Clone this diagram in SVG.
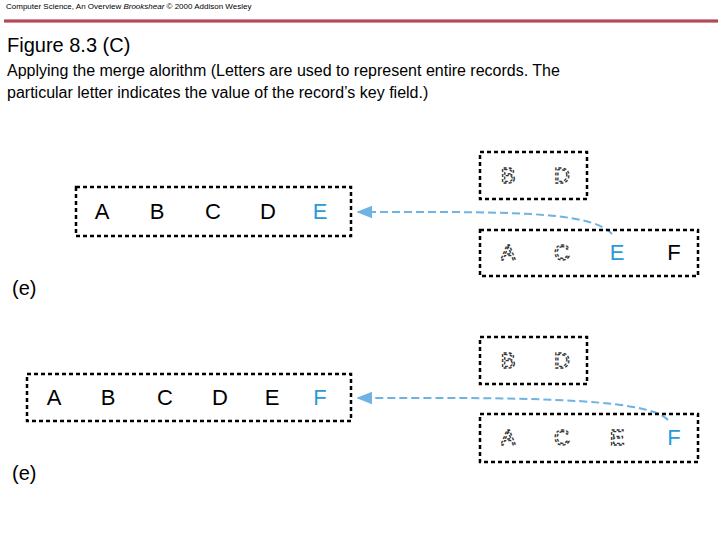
<svg xmlns="http://www.w3.org/2000/svg" width="720" height="540" viewBox="0 0 720 540">
<defs>
<linearGradient id="rule" x1="0" y1="0" x2="0" y2="1"><stop offset="0" stop-color="#e8b0b8"/><stop offset="0.5" stop-color="#a0283c"/><stop offset="1" stop-color="#e8b0b8"/></linearGradient>
<marker id="ah" viewBox="0 0 10 10" refX="9" refY="5" markerWidth="8" markerHeight="8" orient="auto"><path d="M0,1 L10,5 L0,9 z" fill="#6fb2e4"/></marker>
</defs>
<style>
text{font-family:"Liberation Sans",Arial,sans-serif}
.box{fill:none;stroke:#000;stroke-width:2.5;stroke-dasharray:4 3}
.L{font-size:22px;text-anchor:middle}
.b{fill:#2a9ad8}
.o{fill:none;stroke:#333;stroke-width:1.3;stroke-dasharray:3 2}
.con{fill:none;stroke:#6fb2e4;stroke-width:2;stroke-dasharray:8 4}
</style>
<rect width="720" height="540" fill="#fff"/>
<text x="6" y="9" font-size="8">Computer Science, An Overview <tspan font-style="italic">Brookshear</tspan> © 2000  Addison Wesley</text>
<rect x="4" y="19" width="714" height="4" fill="url(#rule)"/>
<text x="7" y="52" font-size="20">Figure 8.3 (C)</text>
<text x="7" y="76" font-size="16">Applying the merge alorithm  (Letters are used to represent entire records.  The</text>
<text x="7" y="98" font-size="16">particular letter indicates the value of the record’s key field.)</text>
<g id="connectors">
<path class="con" d="M612,234 C590,210 500,212 358,212" marker-end="url(#ah)"/>
<path class="con" d="M668,420 C646,396 500,398 358,398" marker-end="url(#ah)"/>
</g>
<g id="outA">
<rect class="box" x="76" y="187" width="275" height="49"/>
<text class="L" x="102" y="219">A</text><text class="L" x="157" y="219">B</text><text class="L" x="213" y="219">C</text><text class="L" x="268" y="219">D</text><text class="L b" x="320" y="219">E</text>
</g>
<g id="in1A">
<rect class="box" x="480" y="152" width="107" height="47"/>
<text class="L o" x="508" y="183">B</text><text class="L o" x="562" y="183">D</text>
</g>
<g id="in2A">
<rect class="box" x="480" y="230" width="218" height="46"/>
<text class="L o" x="508" y="260">A</text><text class="L o" x="562" y="260">C</text><text class="L b" x="617" y="260">E</text><text class="L" x="674" y="260">F</text>
</g>
<text x="12" y="295" font-size="20">(e)</text>
<g id="outB">
<rect class="box" x="27" y="374" width="324" height="47"/>
<text class="L" x="54" y="405">A</text><text class="L" x="108" y="405">B</text><text class="L" x="165" y="405">C</text><text class="L" x="220" y="405">D</text><text class="L" x="272" y="405">E</text><text class="L b" x="320" y="405">F</text>
</g>
<g id="in1B">
<rect class="box" x="480" y="337" width="107" height="47"/>
<text class="L o" x="508" y="368">B</text><text class="L o" x="562" y="368">D</text>
</g>
<g id="in2B">
<rect class="box" x="480" y="414" width="218" height="48"/>
<text class="L o" x="508" y="445">A</text><text class="L o" x="562" y="445">C</text><text class="L o" x="617" y="445">E</text><text class="L b" x="674" y="445">F</text>
</g>
<text x="12" y="480" font-size="20">(e)</text>
</svg>
